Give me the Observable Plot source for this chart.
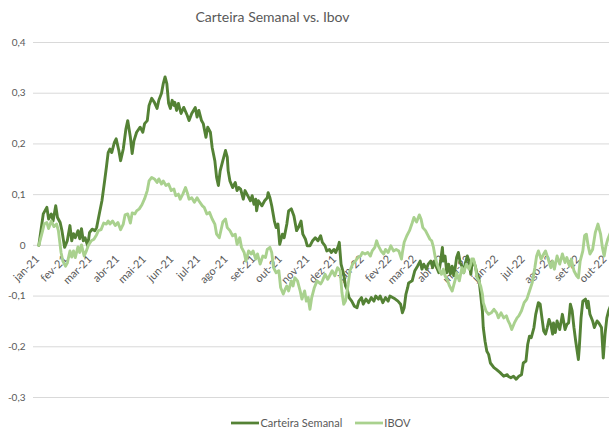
<!DOCTYPE html>
<html>
<head>
<meta charset="utf-8">
<script src="https://cdn.jsdelivr.net/npm/d3@7"></script>
<script src="https://cdn.jsdelivr.net/npm/@observablehq/plot@0.6"></script>
<style>
  html, body { margin: 0; padding: 0; background: #fff; overflow: hidden; }
  body { width: 609px; height: 428px; font-family: Lato, "Open Sans", sans-serif; }
  #title { height: 34px; line-height: 34px; width: 545px; text-align: center; font-size: 14px; color: #595959; }
  #legend { height: 31px; display: flex; justify-content: center; align-items: center; font-size: 11px; color: #595959; padding-left: 33px; }
  #legend .item { display: flex; align-items: center; }
  #legend .item + .item { margin-left: 13px; }
  #legend svg { margin-right: 1px; }
  svg { display: block; }
</style>
</head>
<body>
<div id="title"></div>
<div id="chart"></div>
<div id="legend"></div>
<script>
const chartTitle = "Carteira Semanal vs. Ibov";
const seriesNames = ["Carteira Semanal", "IBOV"];
const seriesColors = ["#548235", "#A9D18E"];
const monthAbbr = ["jan","fev","mar","abr","mai","jun","jul","ago","set","out","nov","dez"];
const yTicks = [-0.3, -0.2, -0.1, 0, 0.1, 0.2, 0.3, 0.4];
const xStart = "2020-12-24";
const xEnd = "2022-10-03";
const monthTicks = ["2021-01-01","2021-02-01","2021-03-01","2021-04-01","2021-05-01","2021-06-01","2021-07-01","2021-08-01","2021-09-01","2021-10-01","2021-11-01","2021-12-01","2022-01-01","2022-02-01","2022-03-01","2022-04-01","2022-05-01","2022-06-01","2022-07-01","2022-08-01","2022-09-01","2022-10-01"];

const carteira = [
["2020-12-30",0],["2021-01-04",0.062],["2021-01-08",0.075],["2021-01-10",0.052],["2021-01-13",0.062],["2021-01-15",0.048],["2021-01-18",0.078],["2021-01-20",0.055],["2021-01-23",0.045],["2021-01-25",0.029],["2021-01-28",-0.004],["2021-01-31",0.009],
["2021-02-03",0.039],["2021-02-05",0.009],["2021-02-07",0.023],["2021-02-09",0.015],["2021-02-12",0.029],["2021-02-14",0.013],["2021-02-16",0.033],["2021-02-18",0.009],["2021-02-20",0.015],["2021-02-23",-0.001],["2021-02-25",0.025],["2021-02-28",0.032],
["2021-03-03",0.029],["2021-03-05",0.035],["2021-03-08",0.062],["2021-03-11",0.088],["2021-03-14",0.127],["2021-03-16",0.154],["2021-03-18",0.183],["2021-03-20",0.19],["2021-03-22",0.183],["2021-03-25",0.203],["2021-03-27",0.21],["2021-03-30",0.187],
["2021-04-01",0.167],["2021-04-04",0.19],["2021-04-07",0.23],["2021-04-09",0.246],["2021-04-12",0.213],["2021-04-14",0.181],["2021-04-16",0.206],["2021-04-19",0.223],["2021-04-23",0.233],["2021-04-26",0.223],["2021-04-28",0.24],
["2021-05-01",0.246],["2021-05-03",0.276],["2021-05-06",0.29],["2021-05-09",0.282],["2021-05-12",0.27],["2021-05-14",0.286],["2021-05-17",0.30],["2021-05-19",0.319],["2021-05-21",0.332],["2021-05-23",0.319],["2021-05-25",0.28],["2021-05-27",0.27],["2021-05-29",0.286],["2021-05-31",0.276],
["2021-06-01",0.282],["2021-06-03",0.266],["2021-06-05",0.28],["2021-06-08",0.26],["2021-06-11",0.272],["2021-06-15",0.256],["2021-06-17",0.246],["2021-06-20",0.26],["2021-06-24",0.272],["2021-06-26",0.253],["2021-06-28",0.266],
["2021-07-01",0.246],["2021-07-03",0.24],["2021-07-06",0.213],["2021-07-08",0.233],["2021-07-11",0.223],["2021-07-13",0.193],["2021-07-16",0.167],["2021-07-18",0.134],["2021-07-20",0.118],["2021-07-22",0.147],["2021-07-25",0.167],["2021-07-28",0.187],["2021-07-30",0.174],["2021-07-31",0.147],
["2021-08-02",0.127],["2021-08-05",0.114],["2021-08-08",0.124],["2021-08-10",0.108],["2021-08-12",0.114],["2021-08-14",0.111],["2021-08-17",0.091],["2021-08-19",0.108],["2021-08-22",0.098],["2021-08-25",0.088],["2021-08-27",0.098],["2021-08-29",0.081],["2021-08-31",0.091],
["2021-09-01",0.068],["2021-09-03",0.088],["2021-09-07",0.078],["2021-09-10",0.088],["2021-09-13",0.094],["2021-09-14",0.104],["2021-09-16",0.094],["2021-09-18",0.078],["2021-09-21",0.048],["2021-09-23",0.035],["2021-09-25",0.042],["2021-09-27",0.002],["2021-09-30",0.022],
["2021-10-02",0.015],["2021-10-05",0.042],["2021-10-07",0.068],["2021-10-10",0.072],["2021-10-13",0.058],["2021-10-16",0.029],["2021-10-18",0.035],["2021-10-21",0.048],["2021-10-23",0.022],["2021-10-26",0.012],["2021-10-28",-0.001],["2021-10-31",-0.001],
["2021-11-03",0.009],["2021-11-06",0.015],["2021-11-09",0.009],["2021-11-12",0.019],["2021-11-14",0.006],["2021-11-17",-0.001],["2021-11-19",-0.011],["2021-11-22",-0.008],["2021-11-24",-0.014],["2021-11-27",-0.008],["2021-11-29",-0.014],
["2021-12-02",-0.001],["2021-12-03",0.006],["2021-12-05",-0.037],["2021-12-08",-0.057],["2021-12-10",-0.08],["2021-12-12",-0.087],["2021-12-14",-0.103],["2021-12-17",-0.11],["2021-12-20",-0.12],["2021-12-23",-0.123],["2021-12-25",-0.11],["2021-12-28",-0.103],["2021-12-30",-0.116],
["2022-01-02",-0.106],["2022-01-05",-0.113],["2022-01-08",-0.103],["2022-01-11",-0.11],["2022-01-13",-0.10],["2022-01-16",-0.106],["2022-01-18",-0.10],["2022-01-21",-0.113],["2022-01-24",-0.103],["2022-01-27",-0.11],["2022-01-29",-0.10],
["2022-02-01",-0.103],["2022-02-04",-0.106],["2022-02-07",-0.11],["2022-02-10",-0.116],["2022-02-12",-0.133],["2022-02-14",-0.123],["2022-02-16",-0.096],["2022-02-18",-0.083],["2022-02-19",-0.074],["2022-02-23",-0.07],["2022-02-26",-0.05],
["2022-03-01",-0.041],["2022-03-04",-0.031],["2022-03-06",-0.047],["2022-03-08",-0.037],["2022-03-11",-0.047],["2022-03-13",-0.037],["2022-03-16",-0.031],["2022-03-18",-0.044],["2022-03-20",-0.031],["2022-03-22",-0.041],["2022-03-25",-0.054],["2022-03-27",-0.031],["2022-03-29",-0.004],["2022-03-30",-0.031],
["2022-04-01",-0.021],["2022-04-03",-0.054],["2022-04-05",-0.037],["2022-04-07",-0.057],["2022-04-09",-0.041],["2022-04-11",-0.06],["2022-04-13",-0.037],["2022-04-14",-0.024],["2022-04-16",-0.014],["2022-04-18",-0.034],["2022-04-20",-0.041],["2022-04-22",-0.054],["2022-04-24",-0.034],["2022-04-26",-0.021],["2022-04-28",-0.031],["2022-04-30",-0.057],
["2022-05-01",-0.041],["2022-05-03",-0.031],["2022-05-05",-0.041],["2022-05-07",-0.057],["2022-05-09",-0.064],["2022-05-11",-0.096],["2022-05-13",-0.129],["2022-05-14",-0.162],["2022-05-16",-0.189],["2022-05-18",-0.209],["2022-05-20",-0.215],["2022-05-22",-0.232],["2022-05-26",-0.241],["2022-05-29",-0.245],
["2022-06-02",-0.251],["2022-06-06",-0.258],["2022-06-10",-0.255],["2022-06-11",-0.258],["2022-06-14",-0.261],["2022-06-17",-0.258],["2022-06-20",-0.264],["2022-06-23",-0.258],["2022-06-26",-0.255],["2022-06-28",-0.232],
["2022-07-01",-0.228],["2022-07-03",-0.195],["2022-07-05",-0.179],["2022-07-07",-0.182],["2022-07-10",-0.162],["2022-07-12",-0.136],["2022-07-15",-0.113],["2022-07-17",-0.116],["2022-07-19",-0.143],["2022-07-21",-0.169],["2022-07-23",-0.175],["2022-07-25",-0.162],["2022-07-27",-0.146],["2022-07-29",-0.156],["2022-07-31",-0.175],
["2022-08-01",-0.153],["2022-08-03",-0.172],["2022-08-05",-0.149],["2022-08-08",-0.166],["2022-08-10",-0.146],["2022-08-11",-0.136],["2022-08-14",-0.166],["2022-08-16",-0.156],["2022-08-18",-0.153],["2022-08-20",-0.116],["2022-08-22",-0.129],["2022-08-24",-0.162],["2022-08-26",-0.189],["2022-08-29",-0.225],["2022-08-30",-0.202],
["2022-09-01",-0.143],["2022-09-03",-0.11],["2022-09-06",-0.106],["2022-09-08",-0.123],["2022-09-09",-0.11],["2022-09-11",-0.136],["2022-09-14",-0.149],["2022-09-16",-0.162],["2022-09-19",-0.149],["2022-09-21",-0.153],["2022-09-24",-0.162],["2022-09-26",-0.222],["2022-09-28",-0.175],["2022-09-30",-0.143],["2022-10-02",-0.129],["2022-10-04",-0.12]
];

const ibov = [
["2020-12-30",0],["2021-01-03",0.027],["2021-01-05",0.042],["2021-01-08",0.045],["2021-01-10",0.033],["2021-01-13",0.048],["2021-01-16",0.037],["2021-01-19",0.042],["2021-01-21",0.029],["2021-01-24",-0.014],["2021-01-26",-0.031],["2021-01-29",-0.041],["2021-01-31",-0.035],
["2021-02-03",-0.011],["2021-02-05",-0.023],["2021-02-07",-0.011],["2021-02-09",-0.024],["2021-02-12",-0.003],["2021-02-14",-0.014],["2021-02-16",0.001],["2021-02-19",-0.021],["2021-02-21",-0.013],["2021-02-24",0.001],["2021-02-27",0.009],
["2021-03-02",0.012],["2021-03-05",0.021],["2021-03-07",0.029],["2021-03-10",0.031],["2021-03-13",0.044],["2021-03-16",0.042],["2021-03-18",0.048],["2021-03-20",0.042],["2021-03-23",0.048],["2021-03-26",0.039],["2021-03-29",0.045],
["2021-04-01",0.031],["2021-04-04",0.042],["2021-04-06",0.06],["2021-04-09",0.062],["2021-04-12",0.044],["2021-04-14",0.064],["2021-04-17",0.062],["2021-04-19",0.068],["2021-04-22",0.072],["2021-04-25",0.08],["2021-04-28",0.092],
["2021-05-01",0.108],["2021-05-03",0.127],["2021-05-06",0.134],["2021-05-09",0.131],["2021-05-12",0.124],["2021-05-14",0.131],["2021-05-17",0.121],["2021-05-19",0.127],["2021-05-22",0.118],["2021-05-25",0.121],["2021-05-28",0.108],["2021-05-31",0.111],
["2021-06-02",0.098],["2021-06-05",0.101],["2021-06-07",0.091],["2021-06-10",0.101],["2021-06-13",0.114],["2021-06-15",0.104],["2021-06-17",0.091],["2021-06-20",0.094],["2021-06-23",0.085],["2021-06-26",0.094],["2021-06-28",0.088],
["2021-07-02",0.078],["2021-07-04",0.075],["2021-07-07",0.062],["2021-07-10",0.065],["2021-07-13",0.052],["2021-07-16",0.042],["2021-07-18",0.022],["2021-07-21",0.015],["2021-07-25",0.046],["2021-07-28",0.052],["2021-07-30",0.035],
["2021-08-02",0.029],["2021-08-05",0.019],["2021-08-08",0.022],["2021-08-10",0.002],["2021-08-13",0.015],["2021-08-15",-0.004],["2021-08-18",-0.014],["2021-08-20",-0.031],["2021-08-23",-0.011],["2021-08-26",-0.017],["2021-08-28",-0.011],["2021-08-31",-0.027],
["2021-09-02",-0.017],["2021-09-05",-0.037],["2021-09-08",-0.021],["2021-09-11",-0.024],["2021-09-13",-0.008],["2021-09-16",-0.004],["2021-09-18",-0.014],["2021-09-20",-0.044],["2021-09-23",-0.054],["2021-09-26",-0.05],["2021-09-28",-0.083],
["2021-10-01",-0.096],["2021-10-03",-0.087],["2021-10-05",-0.08],["2021-10-07",-0.09],["2021-10-10",-0.07],["2021-10-12",-0.08],["2021-10-14",-0.064],["2021-10-17",-0.07],["2021-10-20",-0.09],["2021-10-22",-0.106],["2021-10-25",-0.09],["2021-10-27",-0.11],["2021-10-29",-0.103],["2021-10-31",-0.126],
["2021-11-02",-0.103],["2021-11-05",-0.083],["2021-11-08",-0.07],["2021-11-12",-0.076],["2021-11-14",-0.07],["2021-11-17",-0.057],["2021-11-20",-0.067],["2021-11-23",-0.057],["2021-11-25",-0.05],["2021-11-28",-0.06],
["2021-12-01",-0.044],["2021-12-04",-0.05],["2021-12-06",-0.093],["2021-12-08",-0.116],["2021-12-10",-0.11],["2021-12-13",-0.077],["2021-12-15",-0.05],["2021-12-18",-0.037],["2021-12-21",-0.031],["2021-12-24",-0.024],["2021-12-27",-0.021],["2021-12-29",-0.014],
["2022-01-01",-0.017],["2022-01-04",-0.014],["2022-01-07",-0.021],["2022-01-09",-0.011],["2022-01-12",-0.004],["2022-01-14",0.009],["2022-01-16",-0.001],["2022-01-19",-0.011],["2022-01-22",-0.017],["2022-01-24",-0.008],["2022-01-27",-0.014],["2022-01-30",-0.001],
["2022-02-02",-0.011],["2022-02-05",-0.008],["2022-02-08",-0.011],["2022-02-11",-0.027],["2022-02-12",-0.014],["2022-02-14",0.006],["2022-02-17",0.019],["2022-02-20",0.029],["2022-02-23",0.044],["2022-02-25",0.055],["2022-02-28",0.046],
["2022-03-03",0.06],["2022-03-05",0.052],["2022-03-07",0.035],["2022-03-10",0.029],["2022-03-12",0.022],["2022-03-15",0.012],["2022-03-17",0.009],["2022-03-19",-0.004],["2022-03-21",-0.024],["2022-03-23",-0.037],["2022-03-26",-0.05],["2022-03-28",-0.057],["2022-03-30",-0.047],
["2022-04-01",-0.06],["2022-04-04",-0.07],["2022-04-06",-0.08],["2022-04-09",-0.09],["2022-04-11",-0.077],["2022-04-13",-0.064],["2022-04-14",-0.054],["2022-04-17",-0.07],["2022-04-20",-0.044],["2022-04-22",-0.054],["2022-04-25",-0.037],["2022-04-28",-0.047],["2022-04-30",-0.037],
["2022-05-01",-0.027],["2022-05-03",-0.027],["2022-05-05",-0.041],["2022-05-07",-0.064],["2022-05-09",-0.07],["2022-05-11",-0.08],["2022-05-13",-0.096],["2022-05-14",-0.113],["2022-05-17",-0.129],["2022-05-20",-0.136],["2022-05-23",-0.133],["2022-05-26",-0.126],["2022-05-29",-0.133],["2022-05-31",-0.143],
["2022-06-03",-0.133],["2022-06-06",-0.143],["2022-06-09",-0.139],["2022-06-11",-0.149],["2022-06-13",-0.156],["2022-06-15",-0.166],["2022-06-18",-0.153],["2022-06-21",-0.143],["2022-06-23",-0.139],["2022-06-26",-0.129],["2022-06-29",-0.113],
["2022-07-02",-0.106],["2022-07-05",-0.09],["2022-07-08",-0.074],["2022-07-11",-0.044],["2022-07-13",-0.021],["2022-07-15",-0.011],["2022-07-18",-0.027],["2022-07-21",-0.017],["2022-07-23",-0.011],["2022-07-26",-0.027],["2022-07-29",-0.044],["2022-07-31",-0.031],
["2022-08-02",-0.047],["2022-08-05",-0.021],["2022-08-08",-0.037],["2022-08-11",-0.017],["2022-08-14",-0.034],["2022-08-16",-0.024],["2022-08-19",-0.041],["2022-08-21",-0.027],["2022-08-24",-0.05],["2022-08-27",-0.06],["2022-08-29",-0.064],["2022-08-31",-0.031],
["2022-09-03",-0.011],["2022-09-05",0.019],["2022-09-07",0.022],["2022-09-09",-0.001],["2022-09-11",-0.017],["2022-09-14",-0.008],["2022-09-17",0.025],["2022-09-20",0.042],["2022-09-23",0.022],["2022-09-25",-0.004],["2022-09-27",-0.021],["2022-09-29",-0.001],["2022-10-01",0.012],["2022-10-04",0.025]
];

document.getElementById("title").textContent = chartTitle;

const toRows = (arr, name) => arr.map(([d, v]) => ({date: new Date(d), value: v, series: name}));
const rowsC = toRows(carteira, seriesNames[0]);
const rowsI = toRows(ibov, seriesNames[1]);
const months = monthTicks.map(d => new Date(d));
const monthLabel = d => monthAbbr[d.getUTCMonth()] + "-" + String(d.getUTCFullYear()).slice(2);
const yFmt = v => v === 0 ? "0" : d3.format(".1f")(v).replace(".", ",").replace("\u2212", "-");

const chart = Plot.plot({
  width: 609,
  height: 373,
  marginLeft: 33,
  marginRight: 0,
  marginTop: 8,
  marginBottom: 10,
  style: {fontFamily: "Lato, 'Open Sans', sans-serif", background: "transparent", overflow: "hidden"},
  x: {type: "utc", domain: [new Date(xStart), new Date(xEnd)], axis: null},
  y: {domain: [-0.3, 0.4], axis: null},
  marks: [
    Plot.gridY(yTicks, {stroke: "#d9d9d9", strokeOpacity: 1, strokeWidth: 1}),
    Plot.axisY(yTicks, {label: null, tickSize: 0, tickPadding: 8, tickFormat: yFmt, fontSize: 10, fill: "#595959"}),
    Plot.text(months, {x: d => d, y: 0, text: monthLabel, rotate: -45, textAnchor: "end", dx: -3, dy: 12, fontSize: 11, fill: "#595959"}),
    Plot.line(rowsC, {x: "date", y: "value", stroke: seriesColors[0], strokeWidth: 2.9, strokeLinejoin: "round", strokeLinecap: "round", clip: true}),
    Plot.line(rowsI, {x: "date", y: "value", stroke: seriesColors[1], strokeWidth: 2.9, strokeLinejoin: "round", strokeLinecap: "round", clip: true})
  ]
});
document.getElementById("chart").appendChild(chart);

const legend = document.getElementById("legend");
seriesNames.forEach((name, i) => {
  const item = document.createElement("div");
  item.className = "item";
  item.innerHTML = `<svg width="28" height="4"><line x1="0" y1="2" x2="28" y2="2" stroke="${seriesColors[i]}" stroke-width="2.75"/></svg><span>${name}</span>`;
  legend.appendChild(item);
});
</script>
</body>
</html>
